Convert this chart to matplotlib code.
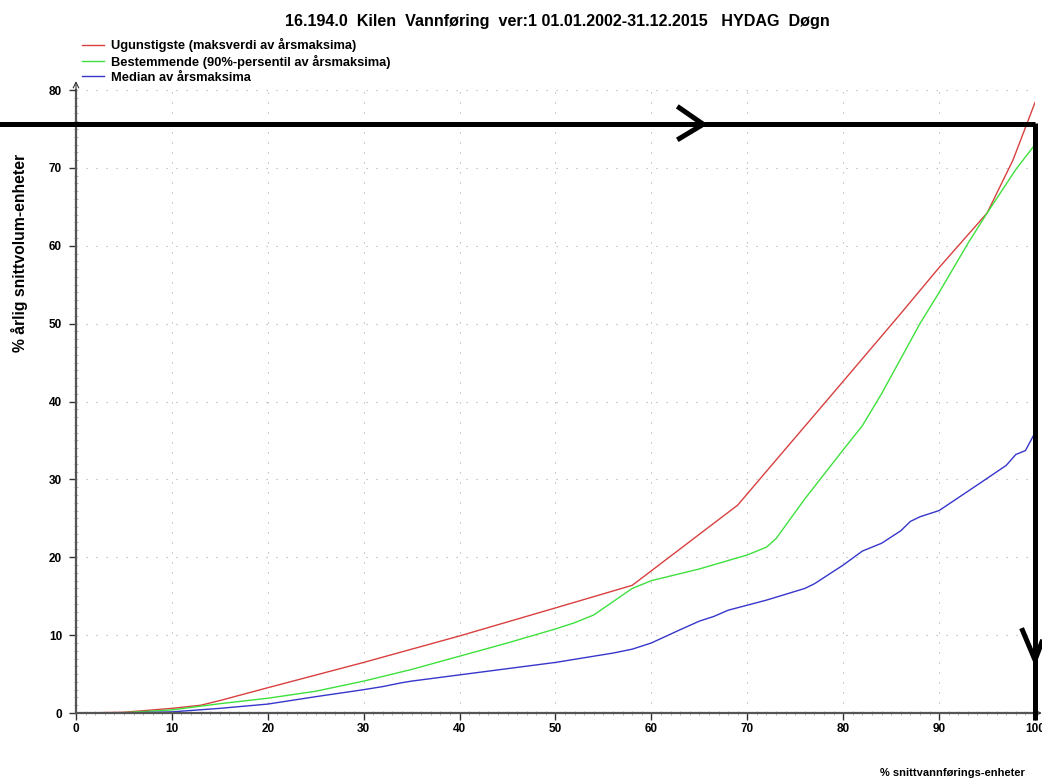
import numpy as np
import matplotlib
matplotlib.use("Agg")
from matplotlib import pyplot as plt
from matplotlib.ticker import MultipleLocator

plt.rcParams['font.family'] = ['Liberation Sans', 'DejaVu Sans']
plt.rcParams['font.weight'] = 'bold'

TITLE = "16.194.0  Kilen  Vannføring  ver:1 01.01.2002-31.12.2015   HYDAG  Døgn"
labels = ["Ugunstigste (maksverdi av årsmaksima)",
          "Bestemmende (90%-persentil av årsmaksima)",
          "Median av årsmaksima"]

# Ugunstigste
x_red = [0, 5, 10, 13, 15, 20, 30, 40, 50, 58, 59.5, 69, 71, 75.5, 80, 86, 90, 92, 95, 97.7, 100]
y_red = [0, 0.1, 0.6, 1.0, 1.6, 3.25, 6.5, 9.9, 13.5, 16.4, 17.8, 26.7, 29.6, 36.1, 42.6, 51.3,
         57.2, 60.0, 64.2, 71.0, 78.4]

# Bestemmende
x_green = [0, 5, 10, 15, 20, 25, 30, 35, 40, 45, 50, 52, 54, 56, 58, 60, 65, 70, 72, 73,
           76, 80, 82, 84, 86, 88, 90, 93, 95, 98, 100]
y_green = [0, 0.05, 0.4, 1.2, 1.9, 2.8, 4.1, 5.6, 7.3, 9.0, 10.8, 11.6, 12.6, 14.3, 16.0, 17.0,
           18.5, 20.3, 21.3, 22.4, 27.5, 33.8, 36.9, 41.0, 45.5, 50.0, 54.0, 60.3, 64.2, 69.8, 73.0]

# Median
x_blue = [0, 5, 10, 15, 20, 25, 30, 32, 34, 35, 40, 45, 50, 56, 58, 60, 63, 65, 66.5, 68,
          72, 76, 77, 80, 82, 84, 86, 87, 88, 90, 94, 97, 98, 99, 100]
y_blue = [0, 0.0, 0.15, 0.6, 1.15, 2.1, 3.0, 3.4, 3.9, 4.1, 4.9, 5.7, 6.5, 7.7, 8.2, 9.0,
          10.7, 11.8, 12.4, 13.2, 14.5, 16.0, 16.6, 19.0, 20.8, 21.8, 23.4, 24.6, 25.2, 26.0,
          29.3, 31.8, 33.2, 33.7, 36.0]

# hand-drawn marker level
mark_level = 75.6

fig = plt.figure(figsize=(10.42, 7.78), dpi=100)
ax = fig.add_axes([0.0729, 0.0835, 0.9204, 0.8008])

ax.plot(x_red, y_red, color='#d84040', lw=1.0, label=labels[0])
ax.plot(x_green, y_green, color='#3ee03e', lw=1.0, label=labels[1])
ax.plot(x_blue, y_blue, color='#3636cc', lw=1.0, label=labels[2])

ax.set_xlim(0, 100)
ax.set_ylim(0, 80)
ax.xaxis.set_major_locator(MultipleLocator(10))
ax.yaxis.set_major_locator(MultipleLocator(10))
ax.xaxis.set_minor_locator(MultipleLocator(1))
ax.yaxis.set_minor_locator(MultipleLocator(1))
ax.grid(True, which='major', color='#aaaaaa', lw=0.8, linestyle=(0, (1, 8)))
ax.tick_params(which='major', direction='out', length=5, width=1, color='#333333',
               labelsize=8.5, pad=5)
ax.tick_params(axis='x', which='major', pad=2.5)
ax.tick_params(which='minor', direction='inout', length=3, width=0.5, color='#999999')
for s in ['top', 'right']:
    ax.spines[s].set_visible(False)
for s in ['left', 'bottom']:
    ax.spines[s].set_color('#555555')
    ax.spines[s].set_linewidth(1.6)

# axis arrows
ax.annotate('', xy=(0, 81.5), xytext=(0, 79.5), annotation_clip=False,
            arrowprops=dict(arrowstyle='->', color='#333333', lw=0.8))
ax.annotate('', xy=(101.0, 0), xytext=(99.5, 0), annotation_clip=False,
            arrowprops=dict(arrowstyle='->', color='#333333', lw=0.8))

fig.text(0.535, 0.973, TITLE, ha='center', va='center', fontsize=11.6, fontweight='bold')
fig.text(0.019, 0.675, "% årlig snittvolum-enheter", rotation=90, ha='center', va='center',
         fontsize=11.3, fontweight='bold')
fig.text(0.914, 0.007, "% snittvannførings-enheter", ha='center', va='center',
         fontsize=8, fontweight='bold')

fig.legend(loc='upper left', bbox_to_anchor=(0.079, 0.951), frameon=False,
           fontsize=9.3, handlelength=1.7, handletextpad=0.5, labelspacing=0.22,
           borderpad=0, borderaxespad=0)

# hand-drawn black arrows
kw = dict(color='black', lw=3.6, solid_capstyle='butt', clip_on=False, zorder=10)
ax.plot([-8, 100], [mark_level, mark_level], **kw)
ax.plot([62.7, 65.4, 62.7], [77.9, mark_level, 73.6], **kw)
ax.plot([100, 100], [mark_level + 0.2, -0.9], **kw)
ax.plot([98.6, 100, 100.8], [10.9, 6.8, 9.4], **kw)

fig.savefig('out.png', dpi=100)
